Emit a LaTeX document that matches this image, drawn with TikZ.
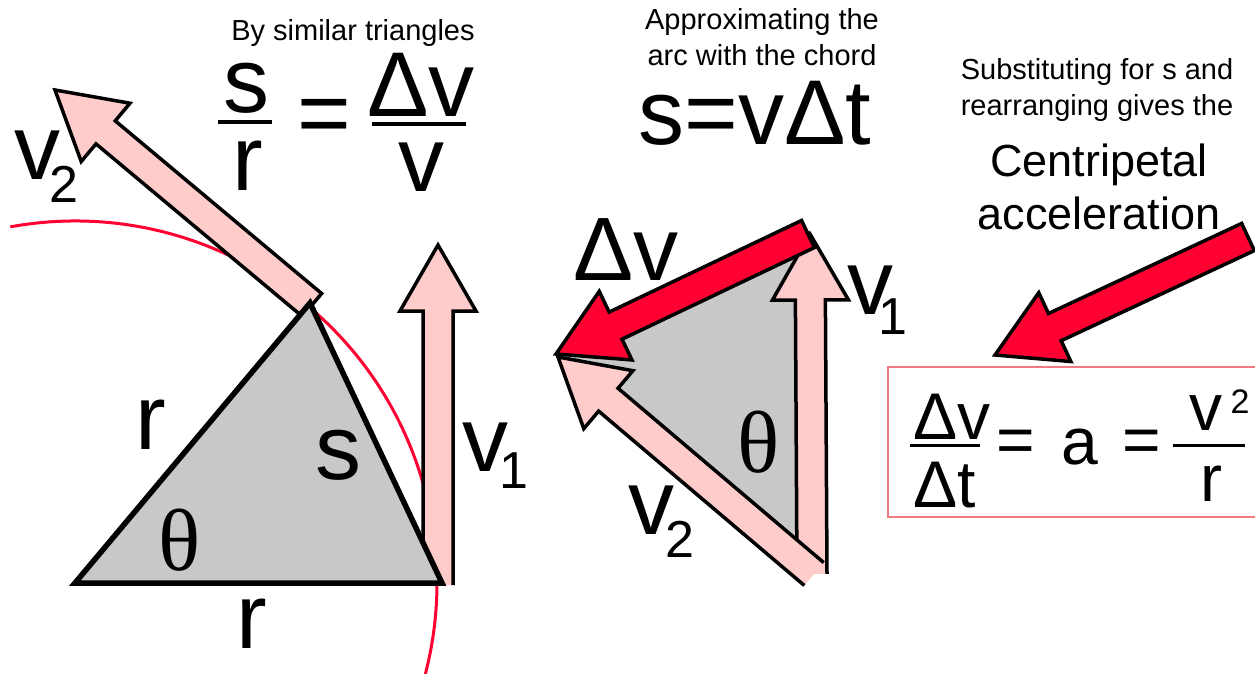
\documentclass[tikz,border=0pt]{standalone}
\usepackage{fontspec}
\setmainfont{Liberation Sans}
\newfontfamily\thetafont{Liberation Serif}
\usetikzlibrary{calc}
\definecolor{pinkfill}{HTML}{FFCCCC}
\definecolor{grayfill}{HTML}{C8C8C8}
\definecolor{redfill}{HTML}{FF0033}
\definecolor{boxred}{HTML}{F07A80}
\newcommand\fs[2][]{\fontsize{#2}{#2}\selectfont}
% block arrow: #1 fill colour, #2 tail coordinate, #3 tip coordinate, #4 path ending
\newcommand\blockarrow[4]{%
  \coordinate (ba-h) at ($(#3)!66pt!(#2)$);
  \coordinate (ba-1) at ($(#2)!15pt!90:(#3)$);
  \coordinate (ba-2) at ($(ba-h)!15pt!90:(#3)$);
  \coordinate (ba-3) at ($(ba-h)!38pt!90:(#3)$);
  \coordinate (ba-5) at ($(ba-h)!38pt!-90:(#3)$);
  \coordinate (ba-6) at ($(ba-h)!15pt!-90:(#3)$);
  \coordinate (ba-7) at ($(#2)!15pt!-90:(#3)$);
  \fill[#1] (ba-1) -- (ba-2) -- (ba-3) -- (#3) -- (ba-5) -- (ba-6) -- (ba-7) -- cycle;
  \draw[arrowline] (ba-1) -- (ba-2) -- (ba-3) -- (#3) -- (ba-5) -- (ba-6) -- (ba-7) #4;
}
\begin{document}
\begin{tikzpicture}[x=1pt,y=-1pt,
  arrowline/.style={draw=black,line width=3.5pt,line join=miter},
  tri/.style={fill=grayfill,draw=black,line width=5.5pt,line join=miter},
  redline/.style={draw=redfill,line width=3pt},
  lbl/.style={inner sep=0pt,font=\fs{92}},
  sub/.style={inner sep=0pt,font=\fs{52}},
  small/.style={inner sep=0pt,align=center,font=\fontsize{29}{36}\selectfont},
  fbar/.style={line width=3.5pt}]
\useasboundingbox (0,0) rectangle (1255,673);
\clip (0,0) rectangle (1255,673);
\fill[white] (0,0) rectangle (1255,673);

% ---- left picture ----
\coordinate (C) at (75,583);
\draw[redline] (C) ++(259.7:362) arc[start angle=259.7,end angle=375.5,radius=362];

\coordinate (lv2t) at (312,305);
\coordinate (lv2h) at (55,90);
\blockarrow{pinkfill}{lv2t}{lv2h}{-- cycle}

\coordinate (lv1t) at (438,585);
\coordinate (lv1h) at (438,245);
\blockarrow{pinkfill}{lv1t}{lv1h}{}

\coordinate (A) at (310,303);
\coordinate (B) at (442,583);
\draw[tri] (C) -- (B) -- (A) -- cycle;

% ---- middle picture ----
\coordinate (mt) at (812,574);
\coordinate (mv1h) at (810,234);
\coordinate (mv2h) at (558,357);
\fill[grayfill] (mt) -- (mv1h) -- (mv2h) -- cycle;
\blockarrow{pinkfill}{mt}{mv1h}{}
\coordinate (mv2t) at (814,574);
\blockarrow{pinkfill}{mv2t}{mv2h}{}
\coordinate (dvt) at (808,234);
\coordinate (dvh) at (556,354);
\blockarrow{redfill}{dvt}{dvh}{-- cycle}

% ---- right picture ----
\coordinate (bat) at (1248,237);
\coordinate (bah) at (995,355);
\blockarrow{redfill}{bat}{bah}{-- cycle}
\draw[draw=boxred,line width=2.5pt] (888,367) rectangle (1262,517);

% ---- texts ----
\node[small] (t1) at (353,33) {By similar triangles};
\node[small] (t2) at (762,37) {Approximating the\\arc with the chord};
\node[small] (t3) at (1097,90) {Substituting for s and\\rearranging gives the};
\node[inner sep=0pt,align=center,font=\fontsize{45}{53}\selectfont] (t4) at (1099,187) {Centripetal\\acceleration};
\node[lbl] (svt) at (755,113) {s=vΔt};

\node[lbl] (fs) at (246,88) {s};
\node[lbl] (fr) at (248,166) {r};
\draw[fbar] (218,122) -- (272,122);
\node[lbl] (feq) at (324,122) {=};
\node[lbl] (fdv) at (421,85) {Δv};
\node[lbl] (fv) at (421,167) {v};
\draw[fbar] (372,124) -- (466,124);

\node[lbl] (lv2) at (37,155) {v};
\node[sub] (lv2s) at (64,184) {2};
\node[lbl] (lr1) at (151,425) {r};
\node[lbl] (ls) at (338,455) {s};
\node[lbl,font=\thetafont\fs{88}] (lth) at (180,540) {θ};
\node[lbl] (lr2) at (252,624) {r};
\node[lbl] (lv1) at (485,447) {v};
\node[sub] (lv1s) at (514,471) {1};

\node[lbl,font=\fs{90}] (mdv) at (626,250) {Δv};
\node[lbl,font=\thetafont\fs{88}] (mth) at (759,442) {θ};
\node[lbl] (mv2) at (651,510) {v};
\node[sub] (mv2s) at (680,539) {2};
\node[lbl] (mv1) at (870,290) {v};
\node[sub] (mv1s) at (893,317) {1};

\node[lbl,font=\fs{66}] (edv) at (952,417) {Δv};
\draw[fbar,line width=3pt] (910,445) -- (980,445);
\node[lbl,font=\fs{66}] (edt) at (945,485) {Δt};
\node[lbl,font=\fs{66}] (eq1) at (1016,446) {=};
\node[lbl,font=\fs{66}] (ea) at (1080,447) {a};
\node[lbl,font=\fs{66}] (eq2) at (1142,446) {=};
\node[lbl,font=\fs{66}] (ev) at (1206,413) {v};
\node[sub,font=\fs{34}] (ev2) at (1240,402) {2};
\draw[fbar,line width=3pt] (1173,445) -- (1245,445);
\node[lbl,font=\fs{66}] (er) at (1211,484) {r};
\end{tikzpicture}
\end{document}
